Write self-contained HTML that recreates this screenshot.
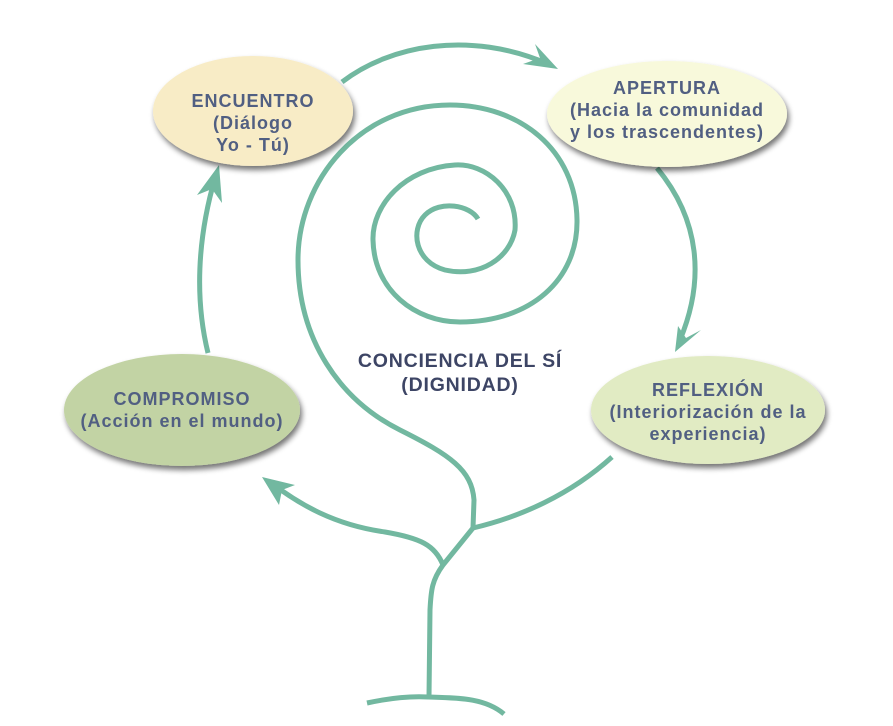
<!DOCTYPE html>
<html><head><meta charset="utf-8"><style>
html,body{margin:0;padding:0;background:#fff;}
svg{display:block;}
text{font-family:"Liberation Sans",sans-serif;font-weight:bold;}
</style></head><body>
<svg width="893" height="726" viewBox="0 0 893 726" xmlns="http://www.w3.org/2000/svg">
<defs>
<filter id="sh" x="-20%" y="-20%" width="140%" height="150%">
<feGaussianBlur in="SourceAlpha" stdDeviation="3"/>
<feOffset dx="2" dy="4"/>
<feComponentTransfer><feFuncA type="linear" slope="0.55"/></feComponentTransfer>
<feMerge><feMergeNode/><feMergeNode in="SourceGraphic"/></feMerge>
</filter>
</defs>
<g fill="none" stroke="#72b8a0" stroke-width="5" stroke-linecap="butt" stroke-linejoin="round">
<path d="M478,219 C470,205 440,200 425,215 C410,230 415,262 445,270 C480,278 510,258 515,230 C518,190 485,163 455,165 C405,168 372,205 373,240 C374,290 415,322 460,322 C530,322 578,280 577,220 C576,150 520,105 450,105 C360,105 298,180 298,260 C298,340 340,400 400,430 C450,455 472,470 474,500 L473,528 L443,565 C432,580 431,590 430,610 L429,697"/>
<path d="M367,703 C390,698 410,696 428,697 C460,698 485,698 504,714"/>
<path d="M473,528 C520,517 570,495 612,457"/>
<path d="M443,565 C435,545 420,538 385,532 C335,525 300,505 270,482"/>
<path d="M342,82 C390,45 470,30 548,64"/>
<path d="M657,168 C700,220 705,280 680,340"/>
<path d="M208,353 C195,300 197,240 215,178"/>
</g>
<g fill="#72b8a0">
<path d="M558,69 L523,64 L540,58 L535,44 Z"/>
<path d="M675,352 L678,326 L686,338 L701,330 Z"/>
<path d="M219,165 L222,203 L212,189 L197,195 Z"/>
<path d="M262,477 L295,485 L282,490 L279,505 Z"/>
</g>
<g filter="url(#sh)">
<ellipse cx="253" cy="111" rx="100" ry="55" fill="#f8ecc6"/>
<ellipse cx="667" cy="114" rx="120" ry="53" fill="#f8f9db"/>
<ellipse cx="708" cy="410" rx="117" ry="54" fill="#e1ebc3"/>
<ellipse cx="182" cy="410" rx="118" ry="56" fill="#c2d3a4"/>
</g>
<g fill="#515f82" font-size="18" letter-spacing="1" text-anchor="middle">
<text x="253" y="107">ENCUENTRO</text>
<text x="253" y="129">(Diálogo</text>
<text x="253" y="151">Yo - Tú)</text>
<text x="667" y="94">APERTURA</text>
<text x="667" y="116">(Hacia la comunidad</text>
<text x="667" y="138">y los trascendentes)</text>
<text x="708" y="396">REFLEXIÓN</text>
<text x="708" y="418">(Interiorización de la</text>
<text x="708" y="440">experiencia)</text>
<text x="182" y="405">COMPROMISO</text>
<text x="182" y="427">(Acción en el mundo)</text>
</g>
<g fill="#3d4565" font-size="19.5" letter-spacing="0.8" text-anchor="middle">
<text x="460" y="367">CONCIENCIA DEL SÍ</text>
<text x="460" y="391">(DIGNIDAD)</text>
</g>
</svg>
</body></html>
